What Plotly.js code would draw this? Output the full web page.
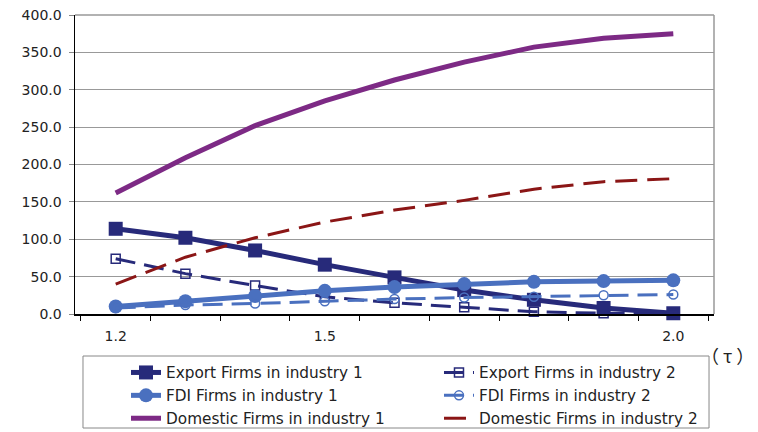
<!DOCTYPE html>
<html><head><meta charset="utf-8">
<script src="https://cdn.plot.ly/plotly-3.0.1.min.js"></script>
<style>html,body{margin:0;padding:0;background:#fff}#chart{width:758px;height:432px}</style>
</head><body><div id="chart"></div>
<script>
const tau = ["1.2","1.3","1.4","1.5","1.6","1.7","1.8","1.9","2.0"];
const tickLabels = ["1.2","","","1.5","","","","","2.0"];
const exportInd1 = [114, 102, 85, 66, 49, 32, 19, 8, 1];
const exportInd2 = [74, 54, 38, 23, 15, 9, 3, 1, 0];
const fdiInd1 = [10, 17, 24, 31, 36, 40, 43, 44, 45];
const fdiInd2 = [8, 12, 14, 17, 20, 22, 23, 25, 26];
const domInd1 = [162, 209, 252, 285, 313, 337, 357, 369, 375];
const domInd2 = [40, 76, 102, 123, 139, 152, 167, 177, 181];

const navy = "#272a7a", blue = "#4a70bf", purple = "#7d2a85", red = "#8b1616";
const FONT = "'DejaVu Sans', 'Liberation Sans', Arial, sans-serif";
const traces = [
  {name:"Export Firms in industry 1", x:tau, y:exportInd1, mode:"lines+markers",
   line:{color:navy,width:5}, marker:{symbol:"square",size:14,color:navy}},
  {name:"Export Firms in industry 2", x:tau, y:exportInd2, mode:"lines+markers",
   line:{color:navy,width:3,dash:"20px,9px"}, marker:{symbol:"square-open",size:9,color:navy,line:{width:1.5}}},
  {name:"FDI Firms in industry 1", x:tau, y:fdiInd1, mode:"lines+markers",
   line:{color:blue,width:5}, marker:{symbol:"circle",size:14,color:blue}},
  {name:"FDI Firms in industry 2", x:tau, y:fdiInd2, mode:"lines+markers",
   line:{color:blue,width:3,dash:"20px,9px"}, marker:{symbol:"circle-open",size:9,color:blue,line:{width:1.5}}},
  {name:"Domestic Firms in industry 1", x:tau, y:domInd1, mode:"lines",
   line:{color:purple,width:5}},
  {name:"Domestic Firms in industry 2", x:tau, y:domInd2, mode:"lines",
   line:{color:red,width:3,dash:"22px,10px"}}
].map(t => Object.assign(t, {cliponaxis:false}));

const layout = {
  width:758, height:432,
  margin:{l:75, r:44, t:15, b:118, autoexpand:false},
  paper_bgcolor:"#fff", plot_bgcolor:"#fff",
  font:{family:FONT, size:14, color:"#222"},
  showlegend:true,
  legend:{orientation:"h", x:0.0798, xanchor:"left", y:-0.1405, yanchor:"top",
    borderwidth:0, bgcolor:"rgba(0,0,0,0)",
    entrywidth:268, entrywidthmode:"pixels", tracegroupgap:0,
    font:{family:FONT, size:15.3, color:"#222"}},
  xaxis:{type:"category", tickmode:"array", tickvals:tau, ticktext:tickLabels,
    tickson:"boundaries", ticks:"outside", ticklen:5, tickcolor:"#000",
    ticklabelstandoff:9,
    showline:true, linecolor:"#000", linewidth:1.5, mirror:false,
    showgrid:false, zeroline:false, fixedrange:true},
  yaxis:{range:[0,400], dtick:50, tickformat:".1f", ticks:"outside", ticklen:5, tickcolor:"#888",
    ticklabelstandoff:4,
    showline:true, linecolor:"#000", linewidth:1.5,
    showgrid:true, gridcolor:"#999", gridwidth:1, zeroline:false, fixedrange:true},
  shapes:[
    {type:"line", xref:"paper", yref:"paper", x0:0, x1:1, y0:1, y1:1, line:{color:"#999", width:1.5}},
    {type:"line", xref:"paper", yref:"paper", x0:1, x1:1, y0:0, y1:1, line:{color:"#999", width:1.5}},
    {type:"rect", xref:"paper", yref:"paper", x0:0.0125, x1:0.9922, y0:-0.1405, y1:-0.3813,
     line:{color:"#888", width:1}, fillcolor:"rgba(0,0,0,0)"}
  ],
  annotations:[
    {text:"（ τ ）", xref:"paper", yref:"paper", x:1.0657, y:-0.137, xanchor:"right", yanchor:"middle",
     showarrow:false, font:{family:"'Noto Sans CJK JP', 'Noto Sans CJK SC', sans-serif", size:18, color:"#222"}}
  ]
};
Plotly.newPlot("chart", traces, layout, {displayModeBar:false, staticPlot:true});
</script></body></html>
